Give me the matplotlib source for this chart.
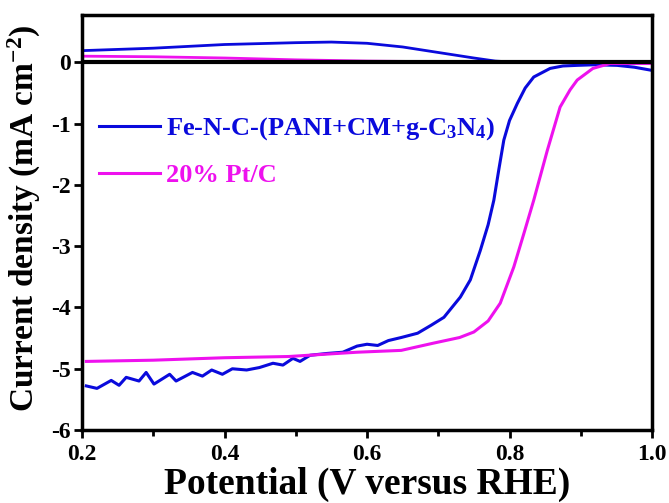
import numpy as np
import matplotlib.pyplot as plt
from matplotlib.ticker import MultipleLocator

plt.rcParams['font.family'] = 'Liberation Serif'
plt.rcParams['font.weight'] = 'bold'
plt.rcParams['axes.labelweight'] = 'bold'
plt.rcParams['axes.unicode_minus'] = False
plt.rcParams['mathtext.fontset'] = 'custom'
plt.rcParams['mathtext.rm'] = 'Liberation Serif:bold'
plt.rcParams['mathtext.it'] = 'Liberation Serif:bold'
plt.rcParams['mathtext.default'] = 'regular'

# disk current, Fe-N-C-(PANI+CM+g-C3N4)
fenc_v = [0.206, 0.221, 0.241, 0.252, 0.262, 0.280, 0.290, 0.301, 0.323, 0.332,
          0.355, 0.369, 0.382, 0.397, 0.411, 0.431, 0.449, 0.468, 0.482, 0.496,
          0.506, 0.520, 0.544, 0.566, 0.586, 0.600, 0.615, 0.630, 0.648, 0.671,
          0.690, 0.708, 0.731, 0.745, 0.759, 0.770, 0.778, 0.785, 0.792, 0.800,
          0.811, 0.822, 0.834, 0.857, 0.875, 0.895, 0.920, 0.951, 0.975, 0.999]
fenc_j = [-5.28, -5.32, -5.19, -5.27, -5.14, -5.20, -5.06, -5.25, -5.09, -5.20,
          -5.06, -5.12, -5.02, -5.09, -5.00, -5.02, -4.98, -4.91, -4.94, -4.83,
          -4.88, -4.78, -4.75, -4.73, -4.63, -4.60, -4.62, -4.54, -4.49, -4.42,
          -4.29, -4.16, -3.83, -3.55, -3.07, -2.65, -2.25, -1.75, -1.27, -0.95,
          -0.67, -0.42, -0.24, -0.10, -0.06, -0.05, -0.04, -0.05, -0.08, -0.13]

# disk current, 20% Pt/C
ptc_v = [0.206, 0.300, 0.400, 0.490, 0.586, 0.648, 0.694, 0.730, 0.750, 0.770,
         0.787, 0.806, 0.820, 0.834, 0.853, 0.871, 0.885, 0.895, 0.917, 0.941,
         0.970, 0.999]
ptc_j = [-4.88, -4.86, -4.82, -4.80, -4.73, -4.70, -4.58, -4.49, -4.40, -4.22,
         -3.93, -3.34, -2.80, -2.25, -1.44, -0.73, -0.45, -0.29, -0.10, -0.02,
         -0.02, -0.02]

# ring current (drawn above the zero line)
ring_v = [0.20, 0.30, 0.40, 0.50, 0.55, 0.60, 0.65, 0.70, 0.75, 0.78, 0.81, 0.90, 1.00]
ring_fenc = [0.19, 0.23, 0.29, 0.32, 0.33, 0.31, 0.25, 0.16, 0.07, 0.02, 0.0, 0.0, 0.0]
ring_ptc = [0.10, 0.09, 0.07, 0.04, 0.03, 0.02, 0.015, 0.01, 0.005, 0.0, 0.0, 0.0, 0.0]

blue = '#0a0adc'
pink = '#ee11ee'

fig = plt.figure(figsize=(6.69, 5.03), dpi=100)
ax = fig.add_axes([0.1226, 0.145, 0.852, 0.825])

ax.plot(ring_v, ring_fenc, color=blue, lw=2)
ax.plot(ring_v, ring_ptc, color=pink, lw=2)
ax.plot(fenc_v, fenc_j, color=blue, lw=2.2, label=r'Fe-N-C-(PANI+CM+g-C$_3$N$_4$)')
ax.plot(ptc_v, ptc_j, color=pink, lw=2.2, label='20% Pt/C')
ax.axhline(0, color='black', lw=3)

ax.set_xlim(0.2, 1.0)
ax.set_ylim(-6, 0.77)
ax.set_yticks(range(-6, 1))
ax.xaxis.set_major_locator(MultipleLocator(0.2))
ax.xaxis.set_minor_locator(MultipleLocator(0.1))
ax.tick_params(which='major', direction='out', length=6, width=2, labelsize=17, pad=2)
ax.tick_params(axis='x', which='major', pad=4)
ax.tick_params(which='minor', direction='out', length=4, width=2)
for s in ax.spines.values():
    s.set_linewidth(2.5)

ax.set_xlabel('Potential (V versus RHE)', fontsize=27)
ax.xaxis.set_label_coords(0.5, -0.088)
ax.set_ylabel(r'Current density (mA cm$^{-2}$)', fontsize=24)
ax.yaxis.set_label_coords(-0.068, 0.51)

ax.legend(loc='upper left', bbox_to_anchor=(0.03, 0.758), frameon=False,
          fontsize=19, handlelength=2.3, handletextpad=0.25, labelspacing=0.8,
          borderpad=0, borderaxespad=0, labelcolor='linecolor')

fig.savefig('out.png', dpi=100)
